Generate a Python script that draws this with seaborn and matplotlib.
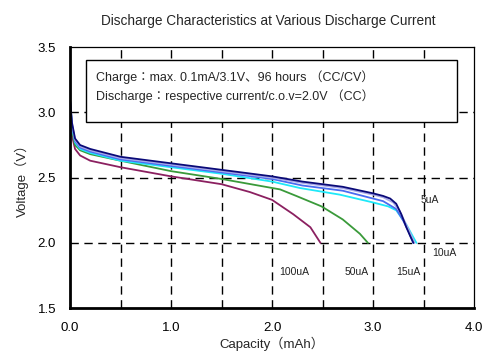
import numpy as np
import pandas as pd
import matplotlib.pyplot as plt
import seaborn as sns
from matplotlib.patches import Rectangle

## discharge curves
# capacity in mAh, voltage in V
cap_5ua = [0, 0.02, 0.05, 0.1, 0.2, 0.5, 1.0, 1.5, 2.0, 2.3, 2.7, 3.0, 3.1, 3.17, 3.23, 3.28, 3.33, 3.37, 3.40]
volt_5ua = [3.10, 2.92, 2.80, 2.75, 2.72, 2.66, 2.61, 2.56, 2.51, 2.47, 2.43, 2.38, 2.36, 2.34, 2.30, 2.22, 2.12, 2.05, 2.00]

cap_lav = [0, 0.02, 0.05, 0.1, 0.2, 0.5, 1.0, 1.5, 2.0, 2.3, 2.7, 3.0, 3.1, 3.2, 3.26, 3.31, 3.36, 3.41]
volt_lav = [3.10, 2.91, 2.79, 2.74, 2.71, 2.65, 2.60, 2.55, 2.50, 2.46, 2.42, 2.37, 2.35, 2.31, 2.25, 2.17, 2.09, 2.00]

cap_10ua = [0, 0.02, 0.05, 0.1, 0.2, 0.5, 1.0, 1.5, 2.0, 2.3, 2.7, 3.0, 3.1, 3.23, 3.30, 3.35, 3.40]
volt_10ua = [3.10, 2.90, 2.78, 2.73, 2.70, 2.64, 2.59, 2.54, 2.49, 2.44, 2.40, 2.34, 2.32, 2.26, 2.17, 2.09, 2.00]

cap_15ua = [0, 0.02, 0.05, 0.1, 0.2, 0.5, 1.0, 1.5, 2.0, 2.28, 2.67, 3.0, 3.15, 3.23, 3.33, 3.38, 3.43]
volt_15ua = [3.10, 2.89, 2.77, 2.72, 2.69, 2.63, 2.58, 2.53, 2.47, 2.42, 2.37, 2.31, 2.28, 2.25, 2.14, 2.07, 2.00]

cap_50ua = [0, 0.02, 0.05, 0.1, 0.2, 0.5, 1.0, 1.5, 2.08, 2.24, 2.49, 2.70, 2.87, 2.95]
volt_50ua = [3.08, 2.86, 2.75, 2.71, 2.68, 2.63, 2.55, 2.49, 2.41, 2.36, 2.28, 2.18, 2.07, 2.00]

cap_100ua = [0, 0.02, 0.05, 0.1, 0.2, 0.5, 1.0, 1.5, 1.78, 2.0, 2.21, 2.38, 2.48]
volt_100ua = [3.02, 2.82, 2.72, 2.67, 2.63, 2.58, 2.51, 2.45, 2.39, 2.33, 2.22, 2.12, 2.00]

series = [
    (cap_100ua, volt_100ua, '#8b2060'),
    (cap_50ua, volt_50ua, '#3a9a3a'),
    (cap_15ua, volt_15ua, '#1ee8f8'),
    (cap_10ua, volt_10ua, '#4a6cf0'),
    (cap_lav, volt_lav, '#a8a8e8'),
    (cap_5ua, volt_5ua, '#0a0a78'),
]

label_text = ['5uA', '10uA', '15uA', '50uA', '100uA']
label_x = [3.56, 3.71, 3.35, 2.84, 2.22]
label_y = [2.33, 1.92, 1.78, 1.78, 1.78]

sns.set_style('white')
plt.rcParams['font.family'] = ['Liberation Sans', 'Noto Sans CJK JP', 'DejaVu Sans']

fig = plt.figure(figsize=(5, 3.6), dpi=100)
ax = fig.add_axes([0.14, 0.144, 0.808, 0.725])

for cap, volt, col in series:
    sns.lineplot(x=cap, y=volt, color=col, lw=1.3, ax=ax, sort=False)

ax.set_xlim(0, 4)
ax.set_ylim(1.5, 3.5)
ax.set_xticks([0, 1, 2, 3, 4])
ax.set_xticklabels(['0.0', '1.0', '2.0', '3.0', '4.0'])
ax.set_yticks([1.5, 2.0, 2.5, 3.0, 3.5])
ax.set_yticklabels(['1.5', '2.0', '2.5', '3.0', '3.5'])
ax.tick_params(direction='in', length=3, width=1, labelsize=9.5, colors='black', pad=10)

# dashed grid every 0.5
for gx in np.arange(0.5, 4, 0.5):
    ax.axvline(gx, color='black', lw=1, ls=(0, (6, 4)), zorder=0)
for gy in [2.0, 2.5, 3.0]:
    ax.axhline(gy, color='black', lw=1, ls=(0, (6, 4)), zorder=0)

for side in ['left', 'bottom']:
    ax.spines[side].set_linewidth(2)
for side in ['top', 'right']:
    ax.spines[side].set_linewidth(0.9)
for s in ax.spines.values():
    s.set_color('black')

# condition box
ax.add_patch(Rectangle((0.04, 0.713), 0.918, 0.237, transform=ax.transAxes,
                       facecolor='white', edgecolor='black', lw=1, zorder=3))
ax.text(0.064, 0.885, 'Charge：max. 0.1mA/3.1V、96 hours （CC/CV）', transform=ax.transAxes,
        fontsize=9, va='center', zorder=4)
ax.text(0.064, 0.812, 'Discharge：respective current/c.o.v=2.0V （CC）', transform=ax.transAxes,
        fontsize=9, va='center', zorder=4)

for t, lx, ly in zip(label_text, label_x, label_y):
    ax.text(lx, ly, t, fontsize=7.5, ha='center', va='center', color='#222222')

ax.set_xlabel('Capacity（mAh）', fontsize=9.5, labelpad=2)
ax.set_ylabel('Voltage（V）', fontsize=9.5, labelpad=6)
fig.suptitle('Discharge Characteristics at Various Discharge Current', fontsize=9.8, x=0.537, y=0.962)

plt.savefig('out.png', dpi=100)
